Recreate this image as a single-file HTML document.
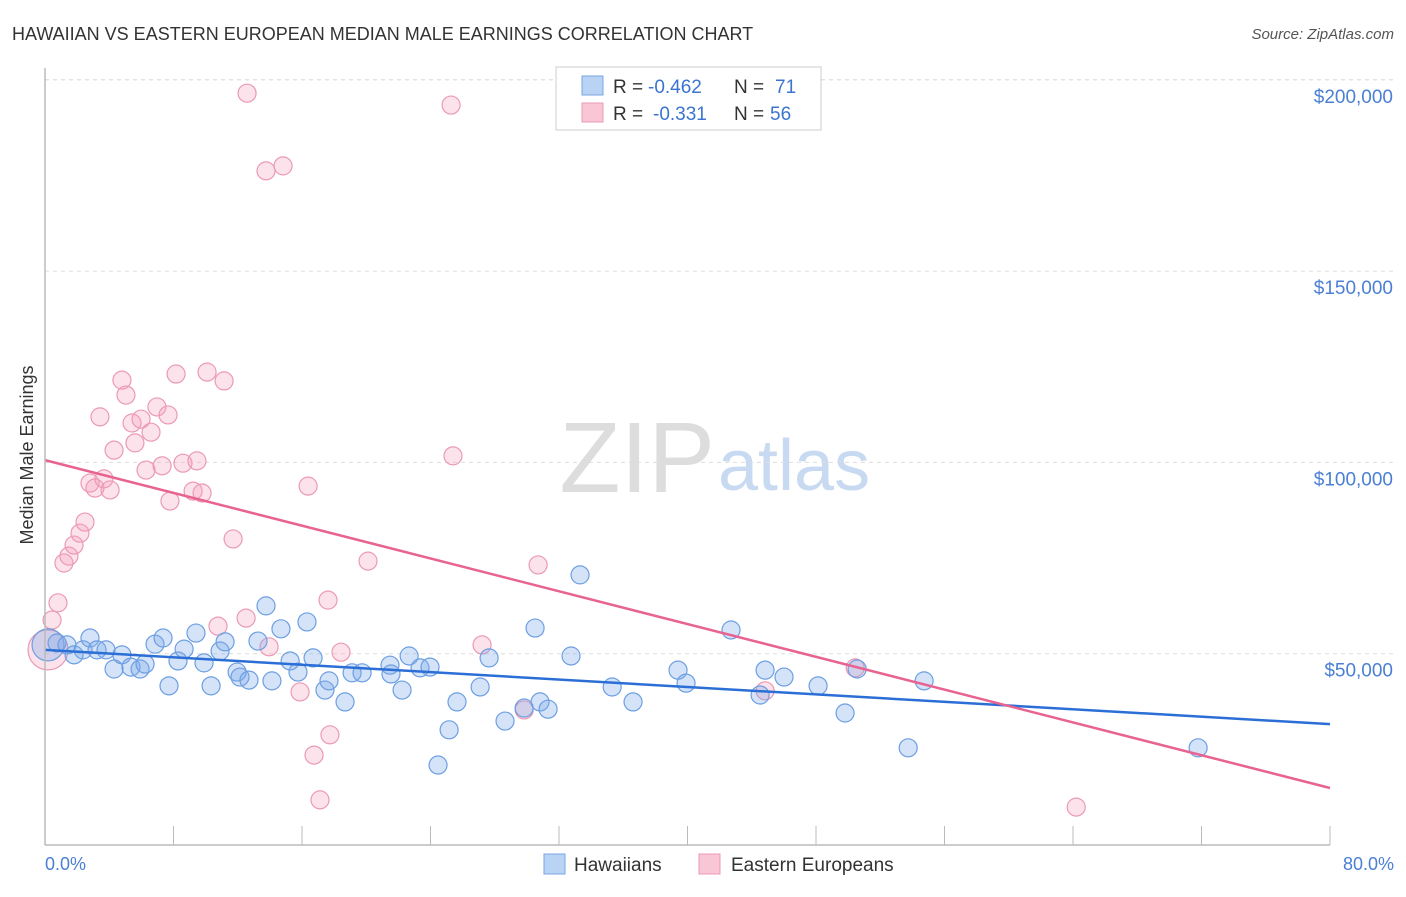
<!DOCTYPE html>
<html><head><meta charset="utf-8"><style>
body{margin:0;background:#fff;font-family:"Liberation Sans",sans-serif}
svg text{font-family:"Liberation Sans",sans-serif}
</style></head><body>
<svg id="c" width="1406" height="892" xmlns="http://www.w3.org/2000/svg">
<text x="12" y="40" font-size="18" fill="#333">HAWAIIAN VS EASTERN EUROPEAN MEDIAN MALE EARNINGS CORRELATION CHART</text>
<text x="1394" y="39" font-size="15" fill="#555" text-anchor="end" font-style="italic">Source: ZipAtlas.com</text>
<text x="33" y="455" font-size="18" fill="#333" text-anchor="middle" transform="rotate(-90 33 455)">Median Male Earnings</text>
<text x="715" y="492" font-size="100" fill="#ddd" text-anchor="end" font-family="Liberation Serif">ZIP</text>
<text x="718" y="490" font-size="72" fill="#c8daf2">atlas</text>
<g id="grid"></g><g id="pts"></g><g id="lines"></g>
<line x1="45" y1="68" x2="45" y2="845" stroke="#bbb" stroke-width="1.5"/>
<line x1="45" y1="845" x2="1330" y2="845" stroke="#bbb" stroke-width="1.5"/>
<text x="45" y="870" font-size="18" fill="#4a7fd4">0.0%</text>
<text x="1394" y="870" font-size="18" fill="#4a7fd4" text-anchor="end">80.0%</text>
<g>
<rect x="556" y="67" width="265" height="63" fill="#fff" stroke="#ccc"/>
<rect x="582" y="76" width="21" height="19" fill="#b9d3f5" stroke="#7aa6e3"/>
<rect x="582" y="103" width="21" height="19" fill="#f9c6d6" stroke="#eb9ab4"/>
<text x="613" y="93" font-size="19" fill="#333">R =</text>
<text x="648" y="93" font-size="19" fill="#3b74d0">-0.462</text>
<text x="734" y="93" font-size="19" fill="#333">N =</text>
<text x="775" y="93" font-size="19" fill="#3b74d0">71</text>
<text x="613" y="120" font-size="19" fill="#333">R =</text>
<text x="653" y="120" font-size="19" fill="#3b74d0">-0.331</text>
<text x="734" y="120" font-size="19" fill="#333">N =</text>
<text x="770" y="120" font-size="19" fill="#3b74d0">56</text>
</g>
<g>
<rect x="544" y="854" width="21" height="20" fill="#b9d3f5" stroke="#7aa6e3"/>
<text x="574" y="871" font-size="19" fill="#333">Hawaiians</text>
<rect x="699" y="854" width="21" height="20" fill="#f9c6d6" stroke="#eb9ab4"/>
<text x="731" y="871" font-size="19" fill="#333">Eastern Europeans</text>
</g>
</svg>
<script>
const yTicks=[50000,100000,150000,200000];
const yTickLabels=["$50,000","$100,000","$150,000","$200,000"];
const xTicks=[0,8,16,24,32,40,48,56,64,72,80];
const blueX=[0.19,0.75,1.37,1.81,2.37,2.80,3.24,3.80,4.30,4.79,5.35,5.92,6.23,6.85,7.35,7.72,8.28,8.66,9.40,9.90,10.34,10.90,11.21,11.96,12.14,12.70,13.26,13.76,14.13,14.69,15.26,15.75,16.31,16.69,17.43,17.68,18.68,19.12,19.74,21.48,21.54,22.23,22.67,23.35,23.97,24.47,25.16,25.65,27.09,27.65,28.64,29.83,30.51,30.82,31.32,32.75,33.31,35.31,36.61,39.41,39.91,42.71,44.52,44.83,46.01,48.13,49.81,50.56,53.74,54.73,71.79];
const blueY=[52.3,52.8,52.3,49.7,51.0,54.1,51.0,51.0,46.0,49.7,46.5,46.0,47.3,52.5,54.1,41.6,48.1,51.2,55.4,47.6,41.6,50.7,53.1,45.2,43.9,43.1,53.3,62.5,42.9,56.5,48.1,45.2,58.3,48.9,40.5,42.9,37.4,45.0,45.0,47.0,44.7,40.5,49.4,46.3,46.5,20.9,30.1,37.4,41.3,48.9,32.4,35.8,56.7,37.4,35.5,49.4,70.6,41.3,37.4,45.7,42.3,56.2,39.2,45.7,43.9,41.6,34.5,46.0,25.4,42.9,25.4];
const pinkX=[0.19,0.44,0.81,1.18,1.49,1.81,2.18,2.49,2.80,3.11,3.42,3.67,4.05,4.30,4.79,5.04,5.42,5.60,5.98,6.29,6.60,6.97,7.29,7.66,7.78,8.16,8.59,9.22,9.46,9.78,10.09,10.77,11.15,11.71,12.58,12.52,13.76,13.95,14.82,15.88,16.38,16.75,17.12,17.62,17.74,18.43,20.11,25.28,25.40,27.21,29.83,30.70,44.83,50.44,64.20];
const pinkY=[51.0,58.8,63.3,73.7,75.5,78.4,81.5,84.4,94.6,93.3,111.9,95.7,92.8,103.2,121.5,117.6,110.3,105.1,111.3,98.0,107.9,114.5,99.1,112.4,89.9,123.1,99.8,92.5,100.4,92.0,123.6,57.2,121.3,80.0,196.5,59.3,176.2,51.8,177.5,40.0,93.8,23.5,11.8,64.0,28.8,50.4,74.2,193.4,101.7,52.3,35.3,73.2,40.3,46.3,9.9];
const blueTrend=[51.0,31.6];
const pinkTrend=[100.6,14.9];
const NS="http://www.w3.org/2000/svg";
const X=v=>45+v/80*1285;
const Y=v=>845-v/50000*191.3;
function mk(t,a,p){const e=document.createElementNS(NS,t);for(const k in a)e.setAttribute(k,a[k]);p.appendChild(e);return e;}
const grid=document.getElementById('grid'),pts=document.getElementById('pts'),lines=document.getElementById('lines');
yTicks.forEach((t,i)=>{
 const g=mk('line',{x1:45,x2:1394,y1:Y(t),y2:Y(t),stroke:'#ddd','stroke-dasharray':'4,4'},grid);
 
 
 const tx=mk('text',{x:1393,y:Y(t)+23,'font-size':19,fill:'#4a7fd4','text-anchor':'end'},grid);
 tx.textContent=yTickLabels[i];
 
 
});
const topGrid=mk('line',{x1:45,x2:1394,y1:Y(200000),y2:Y(200000),stroke:'#ddd','stroke-dasharray':'4,4'},grid);


xTicks.forEach(t=>{
 const l=mk('line',{x1:X(t),x2:X(t),y1:826,y2:845,stroke:'#bbb'},grid);
 
 
});
function dots(xs,ys,fill,stroke,name){
 xs.forEach((x,i)=>{
  const r=i===0?(name==='pink-point'?20:16):9;
  const c=mk('circle',{cx:X(x),cy:Y(ys[i]*1000),r:r,fill:fill,stroke:stroke,'stroke-width':1.2},pts);
  
  
 });
}
dots(pinkX,pinkY,'rgba(244,160,188,0.3)','#eb9ab4','pink-point');
dots(blueX,blueY,'rgba(120,168,232,0.32)','#6d9fe2','blue-point');
const bl=mk('line',{x1:X(0),x2:X(80),y1:Y(blueTrend[0]*1000),y2:Y(blueTrend[1]*1000),stroke:'#2b6fd6','stroke-width':2.5},lines);


const pl=mk('line',{x1:X(0),x2:X(80),y1:Y(pinkTrend[0]*1000),y2:Y(pinkTrend[1]*1000),stroke:'#e8638f','stroke-width':2.5},lines);


</script>
</body></html>
